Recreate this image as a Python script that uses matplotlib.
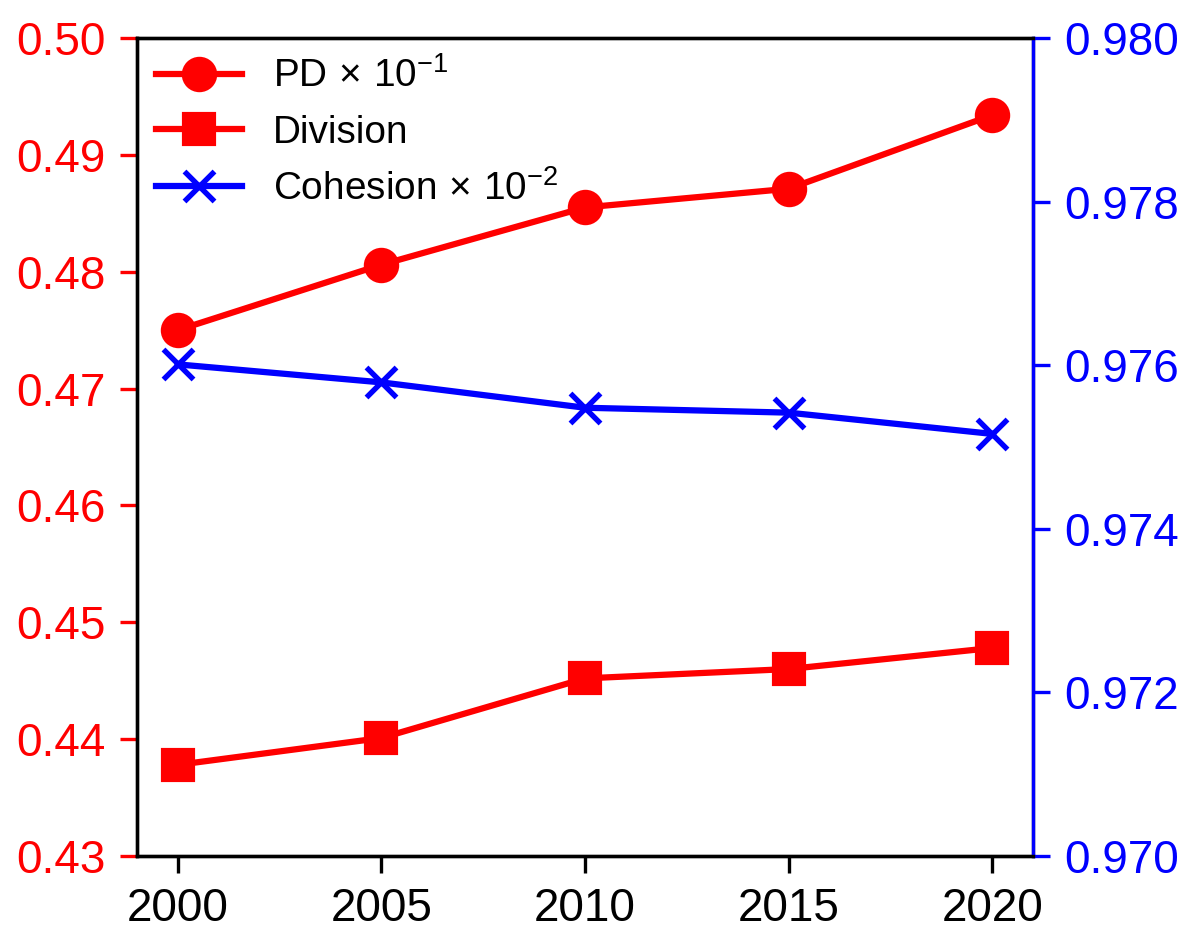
import matplotlib
matplotlib.use('Agg')
import matplotlib.pyplot as plt

plt.rcParams['font.family'] = ['Liberation Sans', 'DejaVu Sans']
plt.rcParams['mathtext.fontset'] = 'custom'
plt.rcParams['mathtext.rm'] = 'Liberation Sans'
plt.rcParams['mathtext.it'] = 'Liberation Sans:italic'
plt.rcParams['mathtext.default'] = 'regular'
plt.rcParams['font.size'] = 11

# 数据
years = [2000, 2005, 2010, 2015, 2020]
pd_vals = [0.4750, 0.4806, 0.4855, 0.4871, 0.4934]        # PD x 10^-1
division_vals = [0.4378, 0.4401, 0.4452, 0.4460, 0.4478]
cohesion_vals = [0.97601, 0.97579, 0.97548, 0.97542, 0.97516]  # Cohesion x 10^-2

left_ticks = [0.43, 0.44, 0.45, 0.46, 0.47, 0.48, 0.49, 0.50]
right_ticks = [0.970, 0.972, 0.974, 0.976, 0.978, 0.980]

fig = plt.figure(figsize=(1192 / 300, 948 / 300), dpi=300)
ax = fig.add_axes([137 / 1192, 1 - 856 / 948, (1033 - 137) / 1192, (856 - 38) / 948])
ax2 = ax.twinx()

l1, = ax.plot(years, pd_vals, color='red', marker='o', lw=1.5, markersize=7.5,
              label=r'PD$\,\times\,10^{-1}$')
l2, = ax.plot(years, division_vals, color='red', marker='s', lw=1.5, markersize=7,
              label='Division')
l3, = ax2.plot(years, cohesion_vals, color='blue', marker='x', lw=1.5, markersize=7,
               markeredgewidth=1.3, label=r'Cohesion$\,\times\,10^{-2}$')

ax.set_xlim(1999, 2021)
ax.set_xticks(years)
ax.set_ylim(0.43, 0.50)
ax.set_yticks(left_ticks)
ax.set_yticklabels([f'{v:.2f}' for v in left_ticks])
ax.tick_params(axis='y', colors='red', length=4)
ax.tick_params(axis='x', length=4)

ax2.set_ylim(0.970, 0.980)
ax2.set_yticks(right_ticks)
ax2.set_yticklabels([f'{v:.3f}' for v in right_ticks])
ax2.tick_params(axis='y', colors='blue', length=4)
ax2.spines['right'].set_color('blue')

ax.legend(handles=[l1, l2, l3], loc='upper left', frameon=False, fontsize=9.3,
          borderaxespad=0.1, handlelength=2.2)

fig.savefig('out.png', dpi=300)
